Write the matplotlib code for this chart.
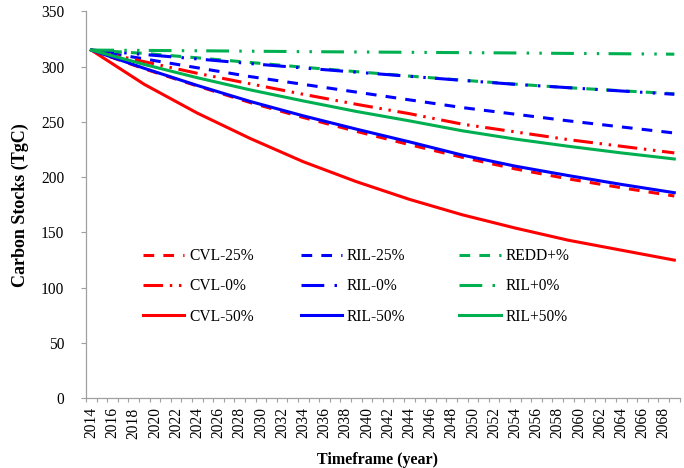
import matplotlib
matplotlib.use("Agg")
import matplotlib.pyplot as plt
from matplotlib.legend import Legend
import numpy as np

plt.rcParams['font.family'] = ['Liberation Serif', 'DejaVu Serif']

# ---- data ----
years = [2014, 2019, 2024, 2029, 2034, 2039, 2044, 2049, 2054, 2059, 2064, 2069]

cvl_25 = [315, 298, 282.5, 267.5, 254, 241.5, 229.5, 218, 207.5, 198.5, 190.5, 183]
ril_25 = [315, 307, 299, 291, 284, 277, 270, 263, 257, 251, 245.5, 240]
redd = [315, 312, 308, 303.8, 299.5, 295.5, 291.5, 287.8, 284.2, 281, 278.2, 275.5]
cvl_0 = [315, 304.5, 294, 284.5, 275, 266, 257.5, 248, 241, 234, 228, 222]
ril_0 = [315, 311, 307, 302.8, 298.8, 295, 291.3, 287.6, 284, 281, 278, 275]
ril_p0 = [315, 314.7, 314.4, 314.0, 313.6, 313.3, 313.0, 312.7, 312.4, 312.0, 311.7, 311.3]
cvl_50 = [315, 284, 258, 235, 214, 196, 180, 166, 154, 143, 134, 125]
ril_50 = [315, 298.5, 283, 268.5, 255.5, 243.5, 232, 220, 210, 201.5, 193.5, 186]
ril_p50 = [315, 302, 290, 279, 269, 259.5, 251, 242, 234.5, 228, 222, 216.5]

series_names = ['CVL-25%', 'RIL-25%', 'REDD+%',
                'CVL-0%', 'RIL-0%', 'RIL+0%',
                'CVL-50%', 'RIL-50%', 'RIL+50%']
series_values = [cvl_25, ril_25, redd, cvl_0, ril_0, ril_p0, cvl_50, ril_50, ril_p50]

tick_years = list(range(2014, 2069, 2))
tick_labels = [str(y) for y in tick_years]
y_ticks = [0, 50, 100, 150, 200, 250, 300, 350]

# ---- styles ----
RED = '#FF0000'
BLUE = '#0000FF'
GREEN = '#00B050'
GRAY = '#A0A0A0'
dash = (0, (3.5, 3.0))
ldd_small = (0, (6.4, 2.2, 0.8, 2.2, 0.8, 2.2))
ldd_big = (0, (7.45, 3.36, 0.8, 3.36, 0.8, 3.04))
styles = {
    'CVL-25%': (RED, dash),
    'RIL-25%': (BLUE, dash),
    'REDD+%': (GREEN, dash),
    'CVL-0%': (RED, ldd_small),
    'RIL-0%': (BLUE, ldd_big),
    'RIL+0%': (GREEN, ldd_big),
    'CVL-50%': (RED, '-'),
    'RIL-50%': (BLUE, '-'),
    'RIL+50%': (GREEN, '-'),
}
LW = 2.2

W, H = 684, 468
fig = plt.figure(figsize=(W / 100, H / 100), dpi=100)
L, R, T, B = 86, 679.6, 11.4, 398.3
ax = fig.add_axes([L / W, 1 - B / H, (R - L) / W, (B - T) / H])

lines = {}
for name, vals in zip(series_names, series_values):
    c, ls = styles[name]
    ln, = ax.plot(years, vals, color=c, linestyle=ls, linewidth=LW, label=name)
    lines[name] = ln

ax.set_xlim(2013.5, 2069.5)
ax.set_ylim(0, 350)

for s in ['top', 'right']:
    ax.spines[s].set_visible(False)
for s in ['left', 'bottom']:
    ax.spines[s].set_color(GRAY)
    ax.spines[s].set_linewidth(0.9)

ax.set_yticks(y_ticks)
ax.set_yticklabels([str(v) for v in y_ticks])
ax.tick_params(axis='y', direction='out', length=3.6, width=0.8, color=GRAY,
               pad=12, labelsize=11.2)

ax.set_xticks(tick_years)
ax.set_xticklabels(tick_labels, rotation=90)
ax.tick_params(axis='x', which='major', length=0, pad=6.5, labelsize=11.2)
ax.set_xticks(np.arange(2013.5, 2070, 1.0), minor=True)
ax.tick_params(axis='x', which='minor', direction='out', length=3, width=0.8, color=GRAY)

fig.text(20 / W, 1 - 205 / H, 'Carbon Stocks (TgC)', rotation=90, ha='center',
         va='center', fontsize=13, fontweight='bold')
fig.text(377.5 / W, 1 - 460 / H, 'Timeframe (year)', ha='center', va='center',
         fontsize=11.5, fontweight='bold')

# legend: three columns placed individually
columns = [['CVL-25%', 'CVL-0%', 'CVL-50%'],
           ['RIL-25%', 'RIL-0%', 'RIL-50%'],
           ['REDD+%', 'RIL+0%', 'RIL+50%']]
col_x = [142.7, 300.7, 459.0]
top_px = 248
for names, x in zip(columns, col_x):
    leg = Legend(ax, [lines[n] for n in names], names,
                 loc='upper left', bbox_to_anchor=(x / W, 1 - top_px / H),
                 bbox_transform=fig.transFigure, frameon=False,
                 borderpad=0, borderaxespad=0, handlelength=2.67,
                 handletextpad=0.3, labelspacing=0.93, fontsize=11.2)
    ax.add_artist(leg)

fig.savefig('out.png', dpi=100)
